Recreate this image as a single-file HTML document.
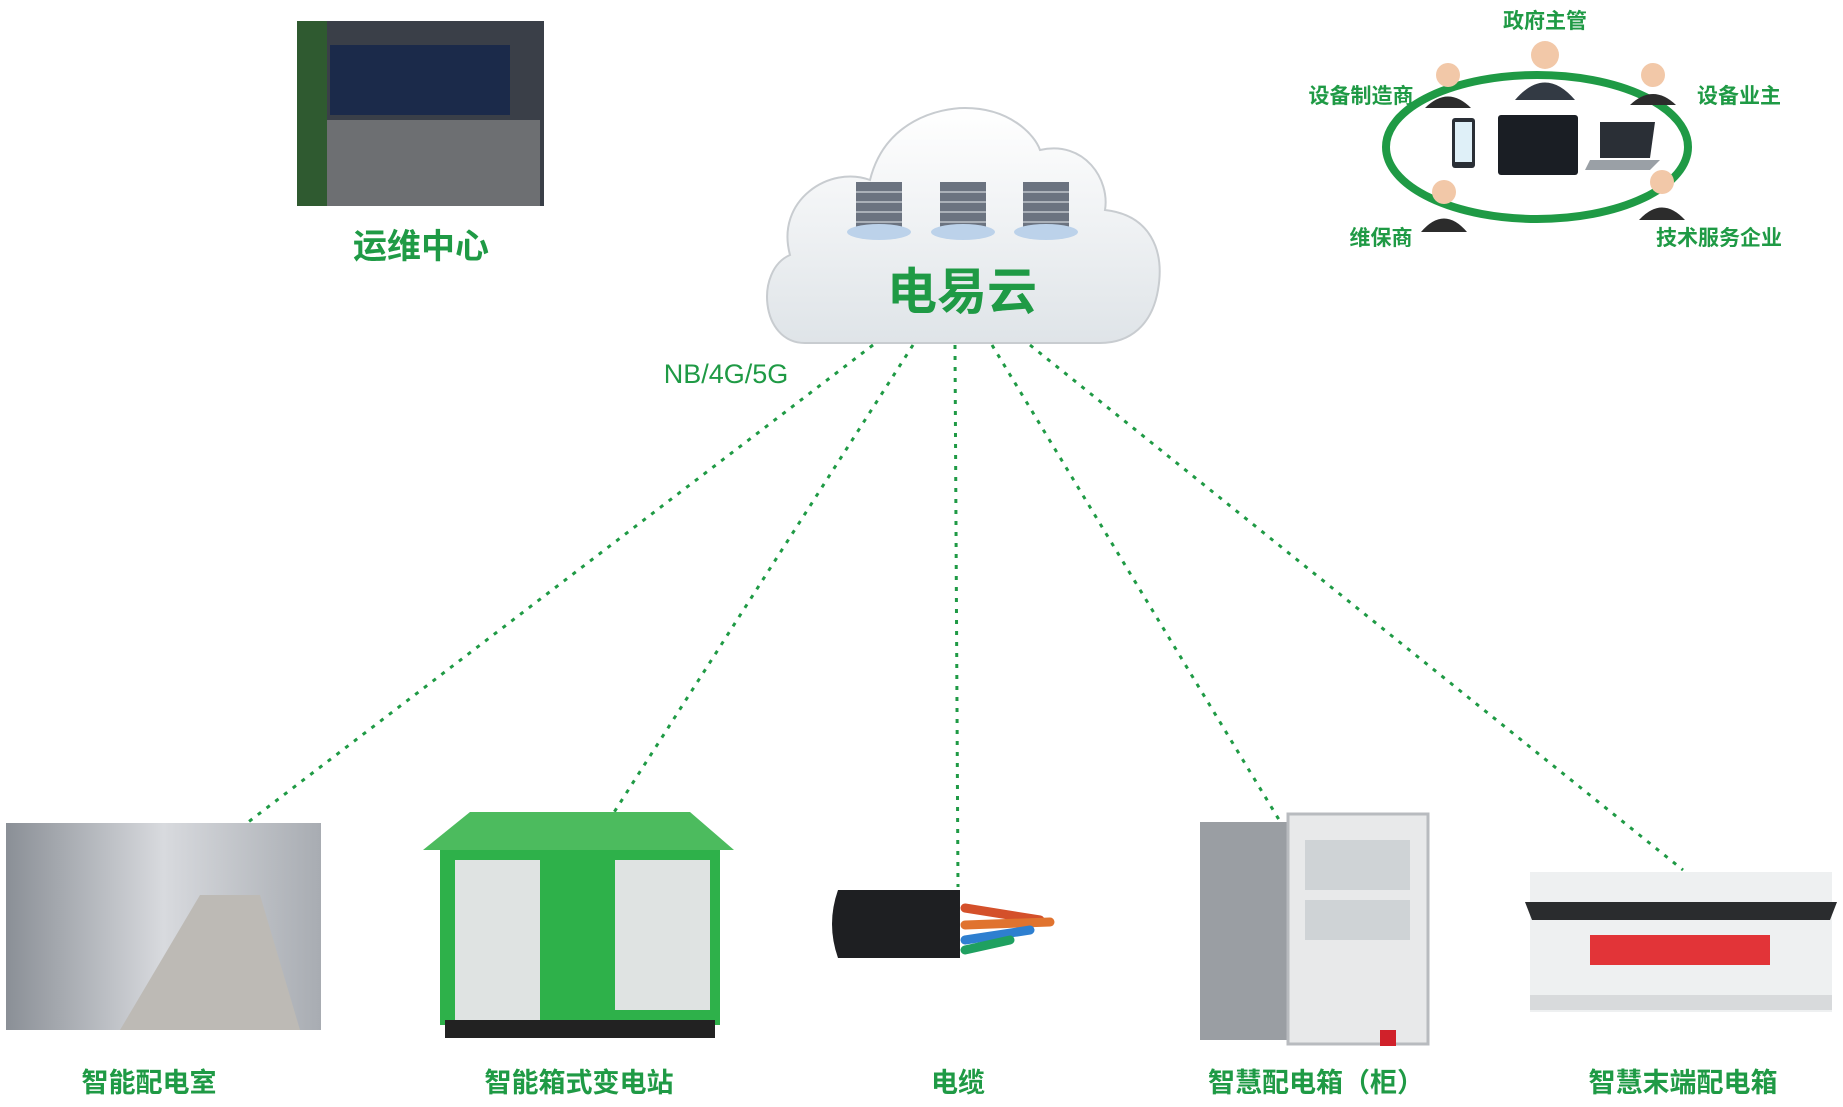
<!DOCTYPE html>
<html><head><meta charset="utf-8"><style>
html,body{margin:0;padding:0;background:#fff;}
body{width:1843px;height:1107px;position:relative;overflow:hidden;font-family:"Liberation Sans","Noto Sans CJK SC",sans-serif;}
.t{position:absolute;color:#1f9a45;font-weight:bold;font-family:"Noto Sans CJK SC","WenQuanYi Zen Hei",sans-serif;white-space:nowrap;transform:translateX(-50%);}
</style></head><body>
<svg width="1843" height="1107" style="position:absolute;left:0;top:0">
<defs>
<linearGradient id="cg" x1="0" y1="0" x2="0" y2="1"><stop offset="0" stop-color="#ffffff"/><stop offset="1" stop-color="#dfe4e8"/></linearGradient>
<linearGradient id="room" x1="0" y1="0" x2="1" y2="0"><stop offset="0" stop-color="#8a8f96"/><stop offset="0.5" stop-color="#d8dade"/><stop offset="1" stop-color="#a8acb2"/></linearGradient>
</defs>
<g stroke="#1f9a45" stroke-width="3" stroke-dasharray="4 7" fill="none">
<line x1="873" y1="345" x2="247" y2="823"/>
<line x1="913" y1="345" x2="611" y2="817"/>
<line x1="955" y1="345" x2="958" y2="887"/>
<line x1="992" y1="345" x2="1281" y2="823"/>
<line x1="1030" y1="345" x2="1683" y2="870"/>
</g>
<path d="M805,343 C760,343 755,270 790,255 C775,200 830,165 870,180 C885,120 940,108 965,108 C1010,108 1035,135 1040,150 C1085,140 1110,180 1105,210 C1150,215 1165,250 1158,290 C1152,325 1130,343 1100,343 Z" fill="url(#cg)" stroke="#c8ccd0" stroke-width="2"/>
<g>
<g transform="translate(856,182)"><rect width="46" height="48" fill="#6b7380"/><g stroke="#aab0b8" stroke-width="2"><line x1="0" y1="10" x2="46" y2="10"/><line x1="0" y1="20" x2="46" y2="20"/><line x1="0" y1="30" x2="46" y2="30"/><line x1="0" y1="40" x2="46" y2="40"/></g><ellipse cx="23" cy="50" rx="32" ry="8" fill="#bcd2ea"/></g>
<g transform="translate(940,182)"><rect width="46" height="48" fill="#6b7380"/><g stroke="#aab0b8" stroke-width="2"><line x1="0" y1="10" x2="46" y2="10"/><line x1="0" y1="20" x2="46" y2="20"/><line x1="0" y1="30" x2="46" y2="30"/><line x1="0" y1="40" x2="46" y2="40"/></g><ellipse cx="23" cy="50" rx="32" ry="8" fill="#bcd2ea"/></g>
<g transform="translate(1023,182)"><rect width="46" height="48" fill="#6b7380"/><g stroke="#aab0b8" stroke-width="2"><line x1="0" y1="10" x2="46" y2="10"/><line x1="0" y1="20" x2="46" y2="20"/><line x1="0" y1="30" x2="46" y2="30"/><line x1="0" y1="40" x2="46" y2="40"/></g><ellipse cx="23" cy="50" rx="32" ry="8" fill="#bcd2ea"/></g>
</g>
<rect x="297" y="21" width="247" height="185" fill="#3a3f48"/>
<rect x="330" y="45" width="180" height="70" fill="#1b2a4a"/>
<rect x="300" y="120" width="240" height="86" fill="#6d6f72"/>
<rect x="297" y="21" width="30" height="185" fill="#2f5a30"/>
<ellipse cx="1537" cy="147" rx="151" ry="72" fill="none" stroke="#1f9a45" stroke-width="8"/>
<g>
<g fill="#f2c8a8"><circle cx="1545" cy="55" r="14"/><circle cx="1448" cy="75" r="12"/><circle cx="1653" cy="75" r="12"/><circle cx="1444" cy="192" r="12"/><circle cx="1662" cy="182" r="12"/></g>
<path d="M1515,100 Q1545,65 1575,100 Z" fill="#333a44"/>
<path d="M1425,108 Q1448,85 1471,108 Z" fill="#2c2c2c"/>
<path d="M1630,105 Q1653,83 1676,105 Z" fill="#2c2c2c"/>
<path d="M1421,232 Q1444,205 1467,232 Z" fill="#2c2c2c"/>
<path d="M1639,220 Q1662,195 1685,220 Z" fill="#2c2c2c"/>
<rect x="1452" y="118" width="23" height="50" rx="3" fill="#2a2f36"/><rect x="1455" y="122" width="17" height="40" fill="#dff0f8"/>
<rect x="1498" y="115" width="80" height="60" rx="3" fill="#1a1e24"/>
<path d="M1600,122 L1655,122 L1650,158 L1600,158 Z" fill="#2a2f36"/><path d="M1590,160 L1660,160 L1650,170 L1585,170 Z" fill="#9aa0a6"/>
</g>
<rect x="6" y="823" width="315" height="207" fill="url(#room)"/>
<path d="M120,1030 L200,895 L260,895 L300,1030 Z" fill="#bdbab5"/>
<path d="M423,850 L470,812 L690,812 L734,850 Z" fill="#4cbb5e"/>
<rect x="440" y="850" width="280" height="175" fill="#2eb14a"/>
<rect x="455" y="860" width="85" height="160" fill="#dfe3e2"/>
<rect x="615" y="860" width="95" height="150" fill="#dfe3e2"/>
<rect x="445" y="1020" width="270" height="18" fill="#222"/>
<path d="M838,890 L960,890 L960,958 L838,958 Q826,924 838,890 Z" fill="#1e1f22"/>
<g stroke-width="9" stroke-linecap="round"><line x1="965" y1="908" x2="1040" y2="920" stroke="#d4502a"/><line x1="965" y1="925" x2="1050" y2="922" stroke="#e0732f"/><line x1="965" y1="940" x2="1030" y2="930" stroke="#2e7fd0"/><line x1="965" y1="950" x2="1010" y2="940" stroke="#1fa060"/></g>
<rect x="1200" y="822" width="88" height="218" fill="#9a9ea3"/>
<rect x="1288" y="814" width="140" height="230" fill="#e8e9ea" stroke="#b8bbbf" stroke-width="3"/>
<rect x="1305" y="840" width="105" height="50" fill="#cfd3d6"/>
<rect x="1305" y="900" width="105" height="40" fill="#cfd3d6"/>
<rect x="1380" y="1030" width="16" height="16" fill="#d0212a"/>
<rect x="1530" y="872" width="302" height="140" fill="#eef0f1"/>
<path d="M1525,902 L1837,902 L1830,920 L1532,920 Z" fill="#2a2c2e"/>
<rect x="1590" y="935" width="180" height="30" fill="#e23438"/>
<rect x="1530" y="995" width="302" height="15" fill="#d8dadc"/>
</svg>
<div class="t" style="left:962px;top:252px;font-size:50px;">电易云</div>
<div class="t" style="left:726px;top:359px;font-size:27px;font-weight:normal;font-family:'Liberation Sans',sans-serif;">NB/4G/5G</div>
<div class="t" style="left:421px;top:219px;font-size:34px;">运维中心</div>
<div class="t" style="left:1545px;top:5px;font-size:21px;">政府主管</div>
<div class="t" style="left:1361px;top:80px;font-size:21px;">设备制造商</div>
<div class="t" style="left:1739px;top:80px;font-size:21px;">设备业主</div>
<div class="t" style="left:1381px;top:222px;font-size:21px;">维保商</div>
<div class="t" style="left:1719px;top:222px;font-size:21px;">技术服务企业</div>
<div class="t" style="left:149px;top:1061px;font-size:27px;">智能配电室</div>
<div class="t" style="left:579px;top:1061px;font-size:27px;">智能箱式变电站</div>
<div class="t" style="left:958px;top:1061px;font-size:27px;">电缆</div>
<div class="t" style="left:1316px;top:1061px;font-size:27px;">智慧配电箱（柜）</div>
<div class="t" style="left:1683px;top:1061px;font-size:27px;">智慧末端配电箱</div>
</body></html>
